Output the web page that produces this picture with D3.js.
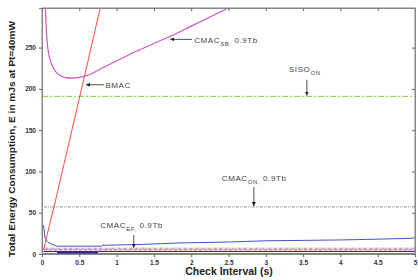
<!DOCTYPE html>
<html>
<head>
<meta charset="utf-8">
<script src="https://d3js.org/d3.v7.min.js"></script>
<style>
body { margin: 0; padding: 0; background: white; }
svg text { font-family: "Liberation Sans", Arial, sans-serif; }
</style>
</head>
<body>
<svg id="chart" width="418" height="280"></svg>
<script>
// check interval (s) and energy values
var bmacT = [0.02, 0.2, 0.37, 0.53, 0.78];
var bmacE = [5, 72, 138, 200, 298];

var sbT = [0.045, 0.06, 0.08, 0.1, 0.15, 0.2, 0.3, 0.4, 0.5, 0.6, 0.8, 1.0, 1.25, 1.5, 1.75, 2.0, 2.25, 2.5];
var sbE = [298, 268, 248, 238, 226, 219, 214, 213, 214, 216, 225, 234, 245, 255, 265, 276, 287, 298];

var sisoE = 191;
var onE = 57;

var blueT = [0.02, 0.04, 0.07, 0.1, 0.2, 0.8, 0.81, 1.3, 1.85, 2.5, 3.0, 3.5, 4.0, 4.5, 4.95, 5];
var blueE = [35, 20, 15, 13, 9.5, 9.5, 10.5, 11.5, 13.4, 14.5, 16, 16.5, 17, 18, 19, 19.5];

var efE = 7;
var lowMagE = 5;
var lowPurpleE = 3;
var navyT = [0.2, 0.75];
var navyE = [0.8, 0.8];

var xTicks = [0, 0.5, 1, 1.5, 2, 2.5, 3, 3.5, 4, 4.5, 5];
var xTickLabels = ["0", "0.5", "1", "1.5", "2", "2.5", "3", "3.5", "4", "4.5", "5"];
var yTicks = [0, 50, 100, 150, 200, 250];

var margin = {top: 8, right: 3, bottom: 26, left: 42},
    width = 418 - margin.left - margin.right,
    height = 280 - margin.top - margin.bottom;

var svg = d3.select("#chart");
var g = svg.append("g").attr("transform", "translate(" + margin.left + "," + margin.top + ")");

var x = d3.scaleLinear().domain([0, 5]).range([0, width]);
var y = d3.scaleLinear().domain([0, 298]).range([height, 0]);

g.append("clipPath").attr("id", "clip")
  .append("rect").attr("width", width).attr("height", height);

var plot = g.append("g").attr("clip-path", "url(#clip)");

var line = d3.line().x(function(d) { return x(d[0]); }).y(function(d) { return y(d[1]); });
var curve = d3.line().curve(d3.curveMonotoneX).x(function(d) { return x(d[0]); }).y(function(d) { return y(d[1]); });

function zip(a, b) { return a.map(function(v, i) { return [v, b[i]]; }); }

// bottom cluster
plot.append("path").attr("d", line([[0, 0.3], [5, 0.3]]))
  .attr("stroke", "#3a4fc8").attr("stroke-width", 1.2).attr("fill", "none");
plot.append("path").attr("d", line(zip(navyT, navyE)))
  .attr("stroke", "#1f2a8a").attr("stroke-width", 2.5).attr("fill", "none");
plot.append("path").attr("d", line([[0.02, lowPurpleE], [5, lowPurpleE]]))
  .attr("stroke", "#5a1f6a").attr("stroke-width", 1).attr("fill", "none");
plot.append("path").attr("d", line([[0.02, lowMagE], [5, lowMagE]]))
  .attr("stroke", "#c040b0").attr("stroke-width", 1).attr("stroke-dasharray", "4,1").attr("fill", "none");
plot.append("path").attr("d", line([[0.02, efE], [5, efE]]))
  .attr("stroke", "#888").attr("stroke-width", 0.9).attr("stroke-dasharray", "1,1,3,1").attr("fill", "none");

// CMAC_ON
plot.append("path").attr("d", line([[0, onE], [5, onE]]))
  .attr("stroke", "#888").attr("stroke-width", 0.9).attr("stroke-dasharray", "1,1,3,1,1,1").attr("fill", "none");

// blue
plot.append("path").attr("d", line(zip(blueT, blueE)))
  .attr("stroke", "#4b4fd0").attr("stroke-width", 1).attr("fill", "none");

// SISO_ON
plot.append("path").attr("d", line([[0, sisoE], [5, sisoE]]))
  .attr("stroke", "#7fcf3a").attr("stroke-width", 1).attr("stroke-dasharray", "6,2,2,2").attr("fill", "none");

// CMAC_SB
plot.append("path").attr("d", curve(zip(sbT, sbE)))
  .attr("stroke", "#cc55c8").attr("stroke-width", 1.2).attr("fill", "none");

// BMAC
plot.append("path").attr("d", line(zip(bmacT, bmacE)))
  .attr("stroke", "#ff4b4b").attr("stroke-width", 1).attr("fill", "none");

// frame + axes
g.append("rect").attr("width", width).attr("height", height)
  .attr("fill", "none").attr("stroke", "#888").attr("stroke-width", 1);

var xAxis = g.append("g").attr("transform", "translate(0," + height + ")")
  .call(d3.axisBottom(x).tickValues(xTicks).tickSize(3).tickFormat(function(d, i) { return xTickLabels[i]; }));
var yAxis = g.append("g")
  .call(d3.axisLeft(y).tickValues(yTicks).tickSize(3));
g.append("g").call(d3.axisBottom(x).tickValues(xTicks).tickSize(3).tickFormat(""));
g.append("g").attr("transform", "translate(" + width + ",0)")
  .call(d3.axisLeft(y).tickValues(yTicks).tickSize(3).tickFormat(""));

g.selectAll(".domain").attr("stroke", "#888");
g.selectAll(".tick line").attr("stroke", "#666");
g.selectAll(".tick text").attr("font-size", 6.5).attr("font-weight", "bold").attr("fill", "#333");
xAxis.selectAll(".tick text").attr("dy", "0.8em");

// axis titles
svg.append("text")
  .attr("x", 229).attr("y", 275)
  .attr("text-anchor", "middle").attr("font-size", 10.5).attr("font-weight", "bold").attr("fill", "#222")
  .text("Check Interval (s)");

svg.append("text")
  .attr("transform", "translate(15," + 139 + ") rotate(-90)")
  .attr("text-anchor", "middle").attr("font-size", 9.5).attr("font-weight", "bold").attr("fill", "#222")
  .attr("textLength", 236).attr("lengthAdjust", "spacingAndGlyphs")
  .text("Total Energy Consumption, E in mJs at Pt=40mW");

// annotations
var ann = g.append("g").attr("font-size", 8).attr("fill", "#444").attr("letter-spacing", "0.6px");

svg.append("defs").append("marker").attr("id", "arr")
  .attr("viewBox", "0 0 6 6").attr("refX", 6).attr("refY", 3)
  .attr("markerWidth", 5).attr("markerHeight", 5).attr("orient", "auto")
  .append("path").attr("d", "M0,0L6,3L0,6z").attr("fill", "#222");

function arrow(x1, y1, x2, y2) {
  ann.append("line").attr("x1", x(x1)).attr("y1", y(y1)).attr("x2", x(x2)).attr("y2", y(y2))
    .attr("stroke", "#222").attr("stroke-width", 0.8).attr("marker-end", "url(#arr)");
}

function label(tx, ty, main, sub, tail) {
  var t = ann.append("text").attr("x", x(tx)).attr("y", y(ty));
  t.append("tspan").text(main);
  if (sub) {
    t.append("tspan").attr("dy", 3).attr("font-size", 6).text(sub);
    t.append("tspan").attr("dy", -3).text(tail);
  }
}

label(2.04, 256, "CMAC", "SB,", " 0.9Tb");
arrow(2.01, 260, 1.72, 260);

label(0.85, 201, "BMAC");
arrow(0.83, 205, 0.59, 205);

label(3.31, 220, "SISO", "ON", "");
arrow(3.55, 211, 3.55, 192);

label(2.41, 89, "CMAC", "ON,", " 0.9Tb");
arrow(2.84, 81, 2.84, 58);

label(0.78, 32, "CMAC", "EF,", " 0.9Tb");
arrow(1.23, 23, 1.23, 7.5);
</script>
</body>
</html>
